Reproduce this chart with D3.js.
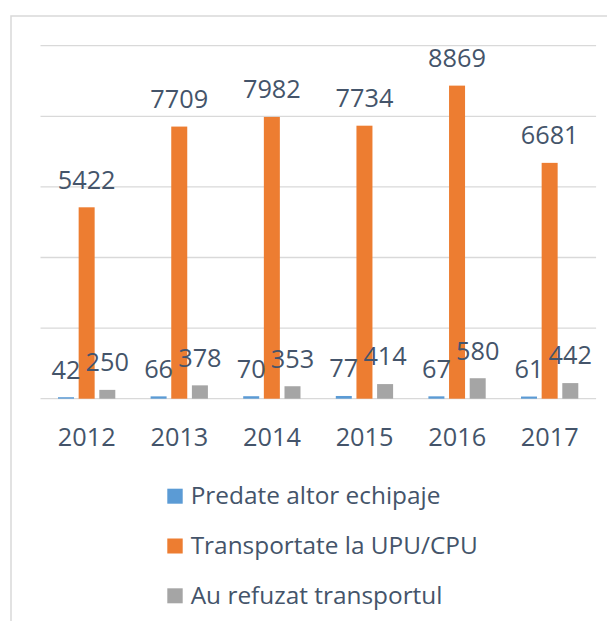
<!DOCTYPE html>
<html>
<head>
<meta charset="utf-8">
<script src="https://cdn.jsdelivr.net/npm/d3@7"></script>
<style>
  html, body { margin: 0; padding: 0; background: #fff; }
  svg text { font-family: "Open Sans", "Noto Sans", sans-serif; fill: #44546a; }
</style>
</head>
<body>
<svg id="chart" width="607" height="621"></svg>
<script>
const years = ['2012', '2013', '2014', '2015', '2016', '2017'];
const seriesNames = ['Predate altor echipaje', 'Transportate la UPU/CPU', 'Au refuzat transportul'];
const predate = [42, 66, 70, 77, 67, 61];
const transportate = [5422, 7709, 7982, 7734, 8869, 6681];
const refuzat = [250, 378, 353, 414, 580, 442];
const gridTicks = [0, 2000, 4000, 6000, 8000, 10000];

const seriesColors = ['#5b9bd5', '#ed7d31', '#a5a5a5'];
const seriesValues = [predate, transportate, refuzat];

const svg = d3.select('#chart');

// outer frame (only top and left edges show in the crop)
svg.append('path')
  .attr('d', 'M11,621 V16 H607')
  .attr('fill', 'none')
  .attr('stroke', '#d9d9d9')
  .attr('stroke-width', 1.5);

const x = d3.scaleBand()
  .domain(years)
  .range([40.5, 596.1])
  .padding(0);

const xs = d3.scaleBand()
  .domain(d3.range(seriesNames.length))
  .range([17.5, 74.8])
  .paddingInner(0.225);

const y = d3.scaleLinear()
  .domain([0, 10000])
  .range([398.7, 45.7]);

// gridlines
svg.append('g')
  .selectAll('line')
  .data(gridTicks)
  .join('line')
  .attr('x1', x.range()[0])
  .attr('x2', x.range()[1])
  .attr('y1', d => y(d))
  .attr('y2', d => y(d))
  .attr('stroke', '#d9d9d9')
  .attr('stroke-width', 1.3);

const rows = years.map((yr, i) => ({
  year: yr,
  vals: seriesValues.map((s, k) => ({ k, v: s[i] }))
}));

const groups = svg.append('g')
  .selectAll('g')
  .data(rows)
  .join('g')
  .attr('transform', d => `translate(${x(d.year)},0)`);

groups.selectAll('rect')
  .data(d => d.vals)
  .join('rect')
  .attr('x', d => xs(d.k))
  .attr('width', xs.bandwidth())
  .attr('y', d => y(d.v))
  .attr('height', d => y(0) - y(d.v))
  .attr('fill', d => seriesColors[d.k]);

// data labels on top of every bar
const labels = svg.append('g')
  .selectAll('g')
  .data(rows)
  .join('g')
  .attr('transform', d => `translate(${x(d.year)},0)`);

labels.selectAll('text')
  .data(d => d.vals)
  .join('text')
  .attr('x', d => xs(d.k) + xs.bandwidth() / 2)
  .attr('y', d => y(d.v) - 18.6)
  .attr('text-anchor', 'middle')
  .style('font-size', '25.3px')
  .text(d => d.v);

// category axis labels
svg.append('g')
  .selectAll('text')
  .data(years)
  .join('text')
  .attr('x', d => x(d) + x.bandwidth() / 2)
  .attr('y', 446)
  .attr('text-anchor', 'middle')
  .style('font-size', '25.3px')
  .text(d => d);

// legend
const legend = svg.append('g')
  .attr('transform', 'translate(167.3,0)');

const items = legend.selectAll('g')
  .data(seriesNames)
  .join('g')
  .attr('transform', (d, i) => `translate(0,${504 + i * 49.8})`);

items.append('rect')
  .attr('x', 0)
  .attr('y', -15.3)
  .attr('width', 15.4)
  .attr('height', 15)
  .attr('fill', (d, i) => seriesColors[i]);

items.append('text')
  .attr('x', 23.4)
  .attr('y', 0)
  .style('font-size', '24.4px')
  .text(d => d);
</script>
</body>
</html>
